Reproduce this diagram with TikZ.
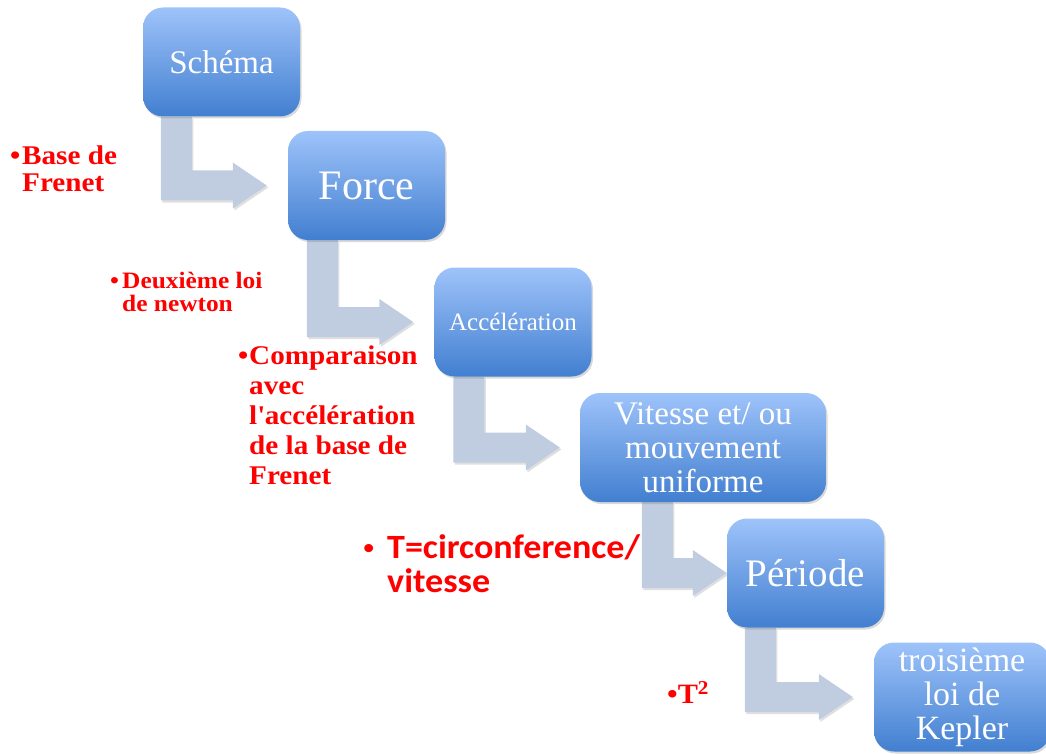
\documentclass[tikz,border=0pt]{standalone}
\usepackage{fontspec}
\setmainfont{Liberation Serif}
\newfontfamily\calibfont[FakeStretch=1.06]{Carlito}
\newfontfamily\rougefont[FakeStretch=1.08]{Liberation Serif}
\usetikzlibrary{calc,shadows,backgrounds}
\definecolor{boxtop}{RGB}{158,195,250}
\definecolor{boxbot}{RGB}{66,127,208}
\definecolor{flecheclr}{RGB}{192,204,224}
\newcommand\fsz[2]{\fontsize{#1pt}{#2pt}\selectfont}
\newcommand\puce[1]{\makebox[#1][l]{•}}
% fleche coudee : source, cible, decalage sous la source, ecart avant la cible
\newcommand\coude[4]{%
	\fill[fleche] let \p1=($(#1.south west)+(#3pt,0)$), \p2=($(#2.west)+(-#4pt,0)$) in
	(\x1,\y1) -- (\x1+31pt,\y1) -- (\x1+31pt,\y2+15pt) -- (\x2-34pt,\y2+15pt)
	-- (\x2-34pt,\y2+23pt) -- (\x2,\y2) -- (\x2-34pt,\y2-23pt)
	-- (\x2-34pt,\y2-15pt) -- (\x1,\y2-15pt) -- cycle;}
\begin{document}
\begin{tikzpicture}[x=1pt, y=-1pt,
	boite/.style={rounded corners=20pt, minimum width=157pt, minimum height=109pt,
		inner sep=2pt, top color=boxtop, bottom color=boxbot, text=white, align=center,
		drop shadow={shadow xshift=1.5pt, shadow yshift=-2pt, opacity=.3}},
	fleche/.style={fill=flecheclr,
		drop shadow={shadow xshift=1.5pt, shadow yshift=-2pt, opacity=.25}},
	etiq/.style={anchor=north west, inner sep=0pt, align=left, text=red}]
	\useasboundingbox (0,0) rectangle (1046,754);
	% ==================== CENTRES DES BOITES ====================
	\path (221.5,62) coordinate (C1)
	(366.5,185.5) coordinate (C2)
	(513,322) coordinate (C3)
	(703,447.5) coordinate (C4)
	(805.5,573) coordinate (C5)
	(962,697) coordinate (C6);
	% ==================== BOITES ====================
	\node[boite, font=\fsz{33}{33}] (schema) at (C1) {Schéma};
	\node[boite, font=\fsz{42}{42}] (force) at (C2) {Force};
	\node[boite, font=\fsz{25}{25}] (accel) at (C3) {Accélération};
	\node[boite, minimum width=246pt, font=\fsz{33}{34}] (vitesse) at (C4) {Vitesse et/ ou\\mouvement\\uniforme};
	\node[boite, font=\fsz{39}{39}] (periode) at (C5) {Période};
	\node[boite, minimum width=176pt, font=\fsz{34}{34}] (kepler) at (C6) {troisième\\loi de\\Kepler};
	% ==================== FLECHES ====================
	\begin{scope}[on background layer]
		\coude{schema}{force}{18}{21}
		\coude{force}{accel}{19}{21}
		\coude{accel}{vitesse}{19}{20}
		\coude{vitesse}{periode}{62}{0}
		\coude{periode}{kepler}{18}{21}
	\end{scope}
	% ==================== ETIQUETTES ====================
	\node[etiq, font=\rougefont\fsz{27}{27}\bfseries] (frenet) at (10,146) {\puce{12pt}Base de\\\hspace*{12pt}Frenet};
	\node[etiq, font=\rougefont\fsz{23.5}{23}\bfseries] (newton) at (110,272) {\puce{12pt}Deuxième loi\\\hspace*{12pt}de newton};
	\node[etiq, font=\rougefont\fsz{27}{30}\bfseries] (compar) at (238,346) {\puce{11pt}Comparaison\\\hspace*{11pt}avec\\\hspace*{11pt}l\textquotesingle accélération\\\hspace*{11pt}de la base de\\\hspace*{11pt}Frenet};
	\node[etiq, font=\calibfont\fsz{34}{34}\bfseries] (circonf) at (363,534) {{\rougefont\fsz{30}{30}\puce{24pt}}T=circonference/\\\hspace*{24pt}vitesse};
	\node[etiq, font=\rougefont\fsz{28}{28}\bfseries] (tcarre) at (667,681) {•T\textsuperscript{2}};
\end{tikzpicture}
\end{document}
